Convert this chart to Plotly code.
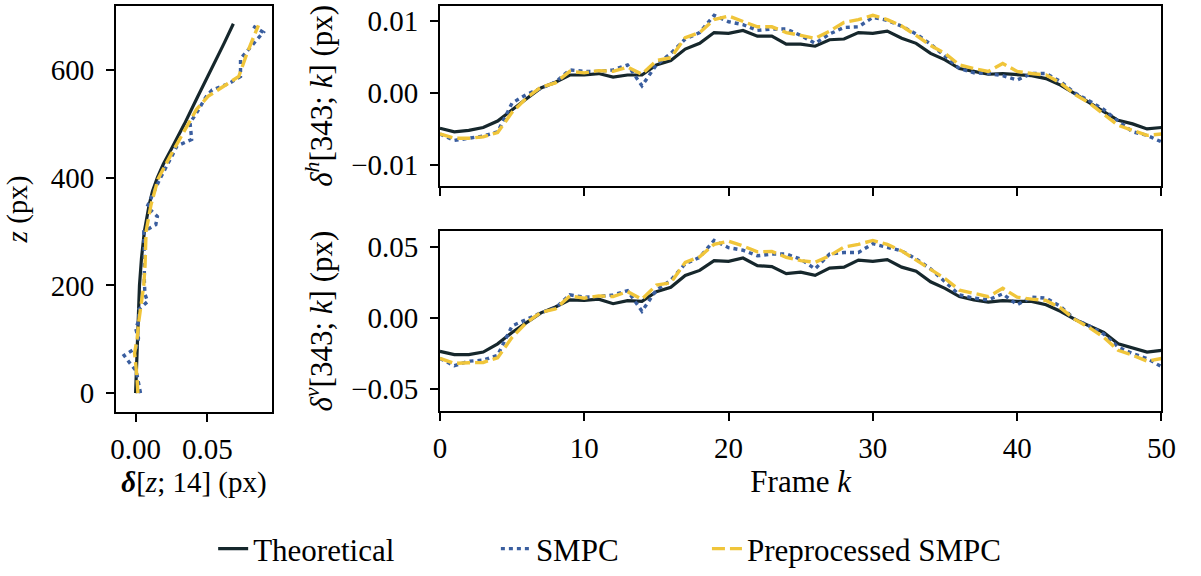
import plotly.graph_objects as go

# ---------------- data ----------------
frames = list(range(51))

h_theo = [-0.0049,-0.0054,-0.0052,-0.0048,-0.0039,-0.0023,-0.0008,0.0007,0.0015,0.0025,
          0.0025,0.0027,0.0022,0.0025,0.0025,0.0039,0.0045,0.0061,0.0069,0.0084,
          0.0083,0.0087,0.0079,0.0079,0.0068,0.0068,0.0065,0.0074,0.0075,0.0084,
          0.0083,0.0086,0.0076,0.0069,0.0055,0.0046,0.0034,0.0030,0.0026,0.0027,
          0.0025,0.0024,0.0020,0.0011,-0.0001,-0.0014,-0.0026,-0.0038,-0.0043,-0.0050,
          -0.0048]
h_smpc = [-0.0057,-0.0066,-0.0063,-0.0060,-0.0054,-0.0014,-0.0002,0.0007,0.0015,0.0032,
          0.0030,0.0030,0.0032,0.0039,0.0010,0.0039,0.0055,0.0075,0.0084,0.0108,
          0.0099,0.0095,0.0087,0.0089,0.0089,0.0080,0.0069,0.0082,0.0091,0.0092,
          0.0105,0.0101,0.0093,0.0082,0.0068,0.0051,0.0034,0.0028,0.0027,0.0024,
          0.0018,0.0027,0.0027,0.0016,0.0000,-0.0011,-0.0023,-0.0039,-0.0054,-0.0059,
          -0.0068]
h_pre = [-0.0057,-0.0063,-0.0063,-0.0061,-0.0055,-0.0027,-0.0007,0.0008,0.0014,0.0030,
         0.0028,0.0031,0.0030,0.0036,0.0026,0.0045,0.0049,0.0077,0.0084,0.0102,
         0.0107,0.0100,0.0092,0.0092,0.0084,0.0080,0.0076,0.0086,0.0098,0.0102,
         0.0108,0.0102,0.0093,0.0080,0.0066,0.0055,0.0039,0.0034,0.0030,0.0041,
         0.0030,0.0027,0.0025,0.0014,-0.0002,-0.0014,-0.0030,-0.0045,-0.0052,-0.0059,
         -0.0057]

v_theo = [-0.0234,-0.0257,-0.0257,-0.0239,-0.0181,-0.0101,-0.0032,0.0037,0.0078,0.0128,
          0.0124,0.0133,0.0101,0.0122,0.0117,0.0186,0.0216,0.0300,0.0335,0.0404,
          0.0399,0.0422,0.0369,0.0362,0.0312,0.0323,0.0300,0.0351,0.0358,0.0408,
          0.0399,0.0411,0.0358,0.0330,0.0255,0.0209,0.0151,0.0128,0.0112,0.0122,
          0.0117,0.0117,0.0094,0.0048,-0.0009,-0.0055,-0.0101,-0.0181,-0.0211,-0.0239,
          -0.0227]
v_smpc = [-0.0284,-0.0335,-0.0303,-0.0296,-0.0261,-0.0055,-0.0009,0.0037,0.0071,0.0163,
          0.0147,0.0151,0.0163,0.0193,0.0048,0.0197,0.0266,0.0381,0.0427,0.0546,
          0.0495,0.0477,0.0438,0.0450,0.0450,0.0415,0.0346,0.0450,0.0461,0.0461,
          0.0523,0.0500,0.0472,0.0415,0.0346,0.0255,0.0163,0.0140,0.0128,0.0170,
          0.0094,0.0147,0.0140,0.0083,-0.0009,-0.0055,-0.0112,-0.0204,-0.0250,-0.0284,
          -0.0342]
v_pre = [-0.0284,-0.0319,-0.0314,-0.0312,-0.0280,-0.0135,-0.0032,0.0041,0.0064,0.0156,
         0.0140,0.0156,0.0151,0.0186,0.0133,0.0232,0.0248,0.0392,0.0431,0.0518,
         0.0541,0.0507,0.0466,0.0468,0.0427,0.0404,0.0392,0.0438,0.0500,0.0518,
         0.0546,0.0518,0.0472,0.0408,0.0346,0.0278,0.0197,0.0174,0.0151,0.0209,
         0.0147,0.0133,0.0124,0.0071,-0.0009,-0.0067,-0.0135,-0.0227,-0.0261,-0.0303,
         -0.0284]

z_theo = [0,50,100,150,200,250,300,350,375,400,425,450,500,550,600,650,686]
d_theo = [0.0,0.0007,0.0011,0.0018,0.0027,0.0041,0.0061,0.0095,0.0118,0.0152,0.0193,
          0.0243,0.0341,0.0432,0.0527,0.0618,0.0682]
z_smpc = [0,41,56,70,84,102,120,138,154,170,184,209,251,300,313,328,346,361,398,441,
          459,471,502,520,551,563,575,588,621,649,670,683]
d_smpc = [0.0034,0.0005,-0.0041,-0.0080,0.0005,0.0020,0.0000,0.0027,0.0016,0.0084,
          0.0065,0.0061,0.0061,0.0057,0.0141,0.0152,0.0080,0.0107,0.0170,0.0255,
          0.0289,0.0391,0.0380,0.0425,0.0493,0.0534,0.0652,0.0732,0.0732,0.0823,
          0.0891,0.0811]
z_pre = [0,32,74,102,135,169,200,239,300,349,398,441,484,527,551,569,588,631,667,683]
d_pre = [0.0016,0.0009,-0.0007,0.0011,0.0023,0.0043,0.0057,0.0066,0.0073,0.0107,
         0.0157,0.0243,0.0334,0.0425,0.0505,0.0607,0.0720,0.0777,0.0834,0.0857]

names = ["Theoretical", "SMPC", "Preprocessed SMPC"]

# ---------------- style ----------------
C_THEO = "#16272c"
C_SMPC = "#3a5e9f"
C_PRE = "#f0c53a"
FONT = "Liberation Serif"
FS = 29
FS_T = 31
W, H = 1201, 576

styles = [
    dict(color=C_THEO, width=3.2),
    dict(color=C_SMPC, width=3.4, dash="4px,4px"),
    dict(color=C_PRE, width=3.4, dash="13px,5px"),
]

fig = go.Figure()

# left panel
for nm, xs, zs, st, lg in zip(names, [d_theo, d_smpc, d_pre], [z_theo, z_smpc, z_pre],
                              styles, ["legend", "legend2", "legend3"]):
    fig.add_trace(go.Scatter(x=xs, y=zs, mode="lines", line=st, name=nm,
                             xaxis="x", yaxis="y", showlegend=True, legend=lg))

# top-right panel
for nm, ys, st in zip(names, [h_theo, h_smpc, h_pre], styles):
    fig.add_trace(go.Scatter(x=frames, y=ys, mode="lines", line=st, name=nm,
                             xaxis="x2", yaxis="y2", showlegend=False))

# bottom-right panel
for nm, ys, st in zip(names, [v_theo, v_smpc, v_pre], styles):
    fig.add_trace(go.Scatter(x=frames, y=ys, mode="lines", line=st, name=nm,
                             xaxis="x3", yaxis="y3", showlegend=False))

axis_common = dict(showline=True, linecolor="black", linewidth=1.6, mirror=True,
                   ticks="outside", ticklen=8, tickwidth=1.6, tickcolor="black",
                   showgrid=False, zeroline=False,
                   tickfont=dict(family=FONT, size=FS, color="black"))
xax = dict(axis_common, ticklabelstandoff=2)
yax = dict(axis_common, ticklabelstandoff=6)

def px_x(a, b):
    return [a / W, b / W]

def px_y(top, bottom):
    return [1 - bottom / H, 1 - top / H]

fig.update_layout(
    width=W, height=H, autosize=False,
    margin=dict(l=0, r=0, t=0, b=0),
    paper_bgcolor="white", plot_bgcolor="white",
    font=dict(family=FONT, size=FS, color="black"),
    xaxis=dict(xax, domain=px_x(111, 270), anchor="y",
               range=[-0.0137, 0.0952], tickvals=[0.0, 0.05], tickformat=".2f",
               title=dict(text="<b><i>δ</i></b>[<i>z</i>; 14] (px)", standoff=8,
                          font=dict(family=FONT, size=FS))),
    yaxis=dict(yax, domain=px_y(5, 416), anchor="x",
               range=[-35, 719], tickvals=[0, 200, 400, 600],
               title=dict(text="<i>z</i> (px)", standoff=15,
                          font=dict(family=FONT, size=FS))),
    xaxis2=dict(xax, domain=px_x(441, 1176), anchor="y2",
                range=[0, 50], tickvals=[0, 10, 20, 30, 40, 50], showticklabels=False),
    yaxis2=dict(yax, domain=px_y(5, 187), anchor="x2",
                range=[-0.0129, 0.0121], tickvals=[-0.01, 0.0, 0.01], tickformat=".2f",
                title=dict(text="<i>δ</i><sup><i>h</i></sup>[343; <i>k</i>] (px)",
                           standoff=9, font=dict(family=FONT, size=FS_T))),
    xaxis3=dict(xax, domain=px_x(441, 1176), anchor="y3",
                range=[0, 50], tickvals=[0, 10, 20, 30, 40, 50],
                title=dict(text="Frame <i>k</i>", standoff=8,
                           font=dict(family=FONT, size=FS_T))),
    yaxis3=dict(yax, domain=px_y(233, 415), anchor="x3",
                range=[-0.0653, 0.0611], tickvals=[-0.05, 0.0, 0.05], tickformat=".2f",
                title=dict(text="<i>δ</i><sup><i>v</i></sup>[343; <i>k</i>] (px)",
                           standoff=9, font=dict(family=FONT, size=FS_T))),
)

leg_common = dict(orientation="h", yanchor="middle", y=1 - 555 / H, xanchor="left",
                  bgcolor="rgba(0,0,0,0)", borderwidth=0,
                  font=dict(family=FONT, size=FS_T, color="black"))
fig.update_layout(
    legend=dict(leg_common, x=(255 - 45) / W),
    legend2=dict(leg_common, x=(543 - 45) / W),
    legend3=dict(leg_common, x=(758 - 45) / W),
)

fig.write_html("out.html",
               config={"responsive": False, "displayModeBar": False},
               post_script="document.body.style.margin='0';document.body.style.overflow='hidden';")
